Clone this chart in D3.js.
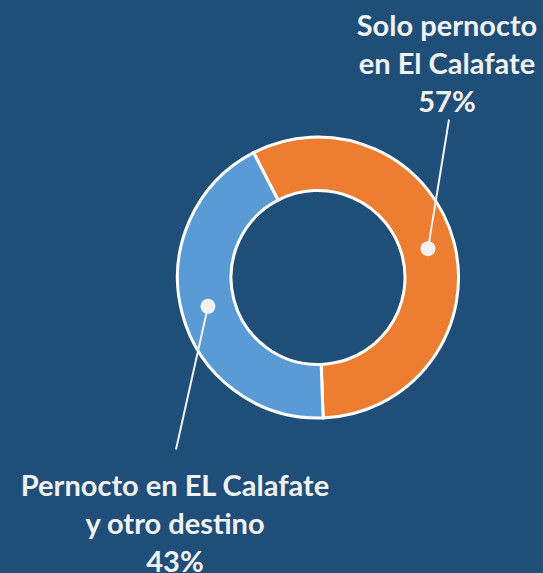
<!DOCTYPE html>
<html>
<head>
<meta charset="utf-8">
<script src="https://cdn.jsdelivr.net/npm/d3@7"></script>
<style>
  html, body { margin: 0; padding: 0; background: #1F4E79; }
  text { font-family: Lato, "Open Sans", sans-serif; font-weight: bold; fill: #F2F2F2; }
</style>
</head>
<body>
<div id="chart"></div>
<script>
// data
var categories = ["Solo pernocto en El Calafate", "Pernocto en EL Calafate y otro destino"];
var values = [57, 43];
var labelLines = [["Solo pernocto", "en El Calafate"], ["Pernocto en EL Calafate", "y otro destino"]];
var colors = ["#ED7D31", "#5B9BD5"];

var width = 543, height = 573;
var cx = 318, cy = 277.5;

var svg = d3.select("#chart").append("svg")
    .attr("width", width)
    .attr("height", height);

svg.append("rect")
    .attr("width", width)
    .attr("height", height)
    .attr("fill", "#1F4E79");

var pie = d3.pie()
    .sort(null)
    .startAngle(-27.3 * Math.PI / 180)
    .endAngle((360 - 27.3) * Math.PI / 180);

var arc = d3.arc()
    .innerRadius(87)
    .outerRadius(140.5);

var arcs = pie(values);

var g = svg.append("g")
    .attr("transform", "translate(" + cx + "," + cy + ")");

g.selectAll("path.slice")
    .data(arcs)
    .enter().append("path")
    .attr("class", "slice")
    .attr("d", arc)
    .attr("fill", function (d, i) { return colors[i]; })
    .attr("stroke", "#FFFFFF")
    .attr("stroke-width", 3)
    .attr("stroke-linejoin", "round");

// label boxes, relative to the centre of the donut
var labelPos = [
    { x: 129, y: -242, lineEnd: [131, -158] },
    { x: -143, y: 218, lineEnd: [-142, 172] }
];

// leader lines
g.selectAll("line.leader")
    .data(arcs)
    .enter().append("line")
    .attr("class", "leader")
    .attr("x1", function (d) { return arc.centroid(d)[0]; })
    .attr("y1", function (d) { return arc.centroid(d)[1]; })
    .attr("x2", function (d, i) { return labelPos[i].lineEnd[0]; })
    .attr("y2", function (d, i) { return labelPos[i].lineEnd[1]; })
    .attr("stroke", "#F2F2F2")
    .attr("stroke-width", 2);

g.selectAll("circle.dot")
    .data(arcs)
    .enter().append("circle")
    .attr("class", "dot")
    .attr("cx", function (d) { return arc.centroid(d)[0]; })
    .attr("cy", function (d) { return arc.centroid(d)[1]; })
    .attr("r", 7.5)
    .attr("fill", "#F2F2F2");

// labels
var total = d3.sum(values);
var lineH = 38;
var labels = g.selectAll("text.label")
    .data(arcs)
    .enter().append("text")
    .attr("class", "label")
    .attr("text-anchor", "middle")
    .style("font-size", "29px")
    .attr("transform", function (d, i) {
        return "translate(" + labelPos[i].x + "," + labelPos[i].y + ")";
    });

labels.each(function (d, i) {
    var t = d3.select(this);
    var lines = labelLines[i].concat([Math.round(d.value / total * 100) + "%"]);
    lines.forEach(function (s, j) {
        t.append("tspan")
            .attr("x", 0)
            .attr("y", j * lineH)
            .text(s);
    });
});
</script>
</body>
</html>
